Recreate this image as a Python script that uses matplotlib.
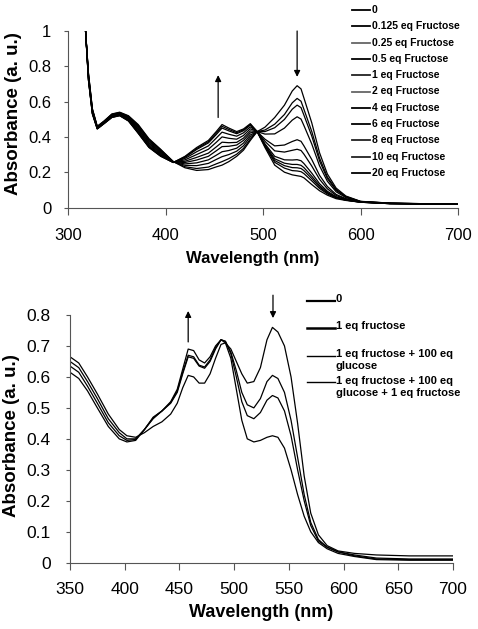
import matplotlib
matplotlib.use('Agg')
import matplotlib.pyplot as plt
from matplotlib.lines import Line2D

plt.rcParams['font.family'] = ['Liberation Sans', 'DejaVu Sans']

W, H = 478, 629

# ---- top panel: titration with fructose ----
wl_top = [318, 321, 325, 330, 337, 345, 353, 362, 372, 383, 395, 408, 420, 432, 444, 452, 458, 465,
          473, 480, 487, 494, 502, 512, 522, 530, 535, 539, 542, 550, 558, 566, 575, 585, 600, 630, 700]

fr_0 = [1.00, 0.76, 0.56, 0.46, 0.49, 0.53, 0.54, 0.52, 0.47, 0.39, 0.33, 0.26, 0.225, 0.21, 0.215, 0.23, 0.24, 0.26,
        0.29, 0.325, 0.38, 0.43, 0.455, 0.51, 0.58, 0.66, 0.69, 0.672, 0.62, 0.48, 0.31, 0.19, 0.11, 0.065, 0.035, 0.025, 0.018]
fr_0125 = [1.00, 0.757, 0.557, 0.459, 0.489, 0.528, 0.538, 0.517, 0.466, 0.386, 0.327, 0.26, 0.231, 0.221, 0.229, 0.247, 0.26, 0.277,
           0.302, 0.335, 0.388, 0.43, 0.439, 0.472, 0.527, 0.593, 0.618, 0.602, 0.556, 0.431, 0.28, 0.173, 0.102, 0.062, 0.034, 0.025, 0.018]
fr_025 = [1.00, 0.752, 0.554, 0.457, 0.487, 0.526, 0.536, 0.514, 0.46, 0.38, 0.322, 0.259, 0.239, 0.237, 0.25, 0.272, 0.288, 0.30,
          0.319, 0.35, 0.40, 0.43, 0.43, 0.452, 0.499, 0.557, 0.58, 0.566, 0.523, 0.405, 0.264, 0.164, 0.097, 0.06, 0.034, 0.024, 0.018]
fr_05 = [1.00, 0.747, 0.55, 0.455, 0.485, 0.523, 0.533, 0.51, 0.454, 0.374, 0.317, 0.258, 0.247, 0.253, 0.27, 0.296, 0.316, 0.323,
         0.336, 0.365, 0.411, 0.43, 0.416, 0.417, 0.45, 0.495, 0.514, 0.501, 0.464, 0.36, 0.236, 0.149, 0.089, 0.056, 0.033, 0.024, 0.018]
fr_1 = [1.00, 0.742, 0.546, 0.453, 0.483, 0.521, 0.531, 0.506, 0.447, 0.367, 0.312, 0.258, 0.255, 0.269, 0.29, 0.321, 0.345, 0.347,
        0.354, 0.38, 0.423, 0.43, 0.387, 0.349, 0.354, 0.374, 0.384, 0.375, 0.349, 0.272, 0.182, 0.119, 0.074, 0.05, 0.032, 0.023, 0.018]
fr_2 = [1.00, 0.737, 0.543, 0.452, 0.482, 0.519, 0.529, 0.503, 0.442, 0.362, 0.307, 0.257, 0.262, 0.284, 0.308, 0.343, 0.37, 0.367,
        0.369, 0.393, 0.434, 0.43, 0.375, 0.321, 0.314, 0.324, 0.33, 0.323, 0.302, 0.235, 0.16, 0.106, 0.068, 0.048, 0.032, 0.023, 0.018]
fr_4 = [1.00, 0.732, 0.539, 0.45, 0.48, 0.516, 0.526, 0.499, 0.435, 0.355, 0.302, 0.257, 0.27, 0.30, 0.33, 0.369, 0.40, 0.392,
        0.387, 0.408, 0.446, 0.43, 0.361, 0.29, 0.27, 0.269, 0.271, 0.265, 0.249, 0.195, 0.135, 0.092, 0.061, 0.045, 0.031, 0.023, 0.018]
fr_6 = [1.00, 0.727, 0.536, 0.448, 0.478, 0.514, 0.524, 0.496, 0.429, 0.349, 0.297, 0.256, 0.278, 0.316, 0.349, 0.393, 0.427, 0.415,
        0.404, 0.423, 0.457, 0.43, 0.355, 0.276, 0.251, 0.244, 0.244, 0.239, 0.226, 0.177, 0.124, 0.086, 0.058, 0.043, 0.031, 0.022, 0.018]
fr_8 = [1.00, 0.723, 0.533, 0.446, 0.476, 0.512, 0.522, 0.493, 0.424, 0.344, 0.293, 0.255, 0.284, 0.329, 0.366, 0.413, 0.45, 0.434,
        0.418, 0.435, 0.467, 0.43, 0.351, 0.266, 0.237, 0.226, 0.225, 0.221, 0.209, 0.164, 0.116, 0.082, 0.056, 0.042, 0.03, 0.022, 0.018]
fr_10 = [1.00, 0.722, 0.531, 0.446, 0.476, 0.511, 0.521, 0.491, 0.422, 0.342, 0.292, 0.255, 0.287, 0.334, 0.373, 0.421, 0.46, 0.442,
         0.424, 0.44, 0.471, 0.43, 0.347, 0.256, 0.223, 0.209, 0.207, 0.203, 0.192, 0.151, 0.108, 0.077, 0.054, 0.042, 0.03, 0.022, 0.018]
fr_20 = [1.00, 0.72, 0.53, 0.445, 0.475, 0.51, 0.52, 0.49, 0.42, 0.34, 0.29, 0.255, 0.29, 0.34, 0.38, 0.43, 0.47, 0.45,
         0.43, 0.445, 0.475, 0.43, 0.34, 0.24, 0.20, 0.185, 0.18, 0.176, 0.168, 0.13, 0.095, 0.07, 0.05, 0.04, 0.03, 0.022, 0.018]

top_series = [fr_0, fr_0125, fr_025, fr_05, fr_1, fr_2, fr_4, fr_6, fr_8, fr_10, fr_20]
top_labels = ['0', '0.125 eq Fructose', '0.25 eq Fructose', '0.5 eq Fructose', '1 eq Fructose',
              '2 eq Fructose', '4 eq Fructose', '6 eq Fructose', '8 eq Fructose', '10 eq Fructose',
              '20 eq Fructose']
top_colors = ['black', 'black', '#666666', 'black', '#222222', '#666666', 'black', 'black', '#222222', '#222222', 'black']

# ---- bottom panel: selectivity (fructose vs glucose) ----
wl_bot = [350, 358, 366, 375, 385, 395, 402, 410, 418, 426, 434, 442, 448, 453, 458, 463, 468, 473, 478, 483,
          488, 492, 497, 502, 507, 512, 518, 524, 530, 535, 540, 546, 552, 558, 564, 570, 577, 585, 595, 610,
          630, 660, 700]

bt_0 = [0.665, 0.645, 0.60, 0.545, 0.48, 0.43, 0.41, 0.405, 0.42, 0.44, 0.455, 0.48, 0.515, 0.565, 0.605, 0.60, 0.58, 0.58, 0.61, 0.66,
        0.705, 0.71, 0.69, 0.65, 0.61, 0.58, 0.585, 0.63, 0.72, 0.76, 0.745, 0.70, 0.60, 0.45, 0.28, 0.16, 0.09, 0.055, 0.038, 0.03,
        0.025, 0.022, 0.022]
bt_1 = [0.65, 0.63, 0.585, 0.53, 0.465, 0.42, 0.40, 0.40, 0.43, 0.465, 0.49, 0.515, 0.55, 0.61, 0.665, 0.66, 0.635, 0.628, 0.65, 0.69,
        0.72, 0.715, 0.68, 0.62, 0.55, 0.51, 0.50, 0.53, 0.585, 0.605, 0.595, 0.55, 0.46, 0.34, 0.22, 0.13, 0.075, 0.05, 0.035, 0.025,
        0.015, 0.012, 0.012]
bt_2 = [0.635, 0.615, 0.57, 0.515, 0.452, 0.41, 0.395, 0.398, 0.43, 0.468, 0.49, 0.517, 0.555, 0.615, 0.67, 0.665, 0.638, 0.632, 0.655, 0.695,
        0.72, 0.715, 0.675, 0.60, 0.52, 0.475, 0.465, 0.485, 0.525, 0.54, 0.532, 0.49, 0.41, 0.30, 0.20, 0.12, 0.07, 0.05, 0.035, 0.022,
        0.012, 0.01, 0.01]
bt_3 = [0.615, 0.595, 0.555, 0.50, 0.44, 0.40, 0.39, 0.395, 0.43, 0.47, 0.49, 0.52, 0.56, 0.625, 0.69, 0.685, 0.655, 0.645, 0.665, 0.70,
        0.72, 0.71, 0.66, 0.56, 0.46, 0.40, 0.39, 0.395, 0.405, 0.41, 0.405, 0.37, 0.30, 0.22, 0.15, 0.10, 0.065, 0.045, 0.03, 0.02,
        0.01, 0.008, 0.008]

bot_series = [bt_0, bt_1, bt_2, bt_3]
bot_labels = ['0', '1 eq fructose', '1 eq fructose + 100 eq\nglucose',
              '1 eq fructose + 100 eq\nglucose + 1 eq fructose']
bot_legend_lw = [1.6, 1.8, 1.0, 1.0]


def fig_xy(x, y):
    # pixel position (from top left) -> figure fraction
    return x / W, 1 - y / H


def style_axes(ax, xpad, ypad):
    for s in ['top', 'right']:
        ax.spines[s].set_visible(False)
    for s in ['left', 'bottom']:
        ax.spines[s].set_color('#555555')
        ax.spines[s].set_linewidth(0.8)
    ax.tick_params(axis='x', direction='out', length=5, width=0.8, color='#555555', pad=xpad)
    ax.tick_params(axis='y', direction='out', length=3, width=0.8, color='#555555', pad=ypad)


fig = plt.figure(figsize=(W / 100, H / 100), dpi=100)

ax1 = fig.add_axes([68 / W, 1 - 207.5 / H, 390 / W, 176.5 / H])
for vals in top_series:
    ax1.plot(wl_top, vals, color='black', lw=0.9, solid_joinstyle='round')
ax1.set_xlim(300, 700)
ax1.set_ylim(0, 1)
ax1.set_xticks([300, 400, 500, 600, 700])
ax1.set_yticks([0, 0.2, 0.4, 0.6, 0.8, 1])
ax1.set_yticklabels(['0', '0.2', '0.4', '0.6', '0.8', '1'])
style_axes(ax1, 10, 9)
ax1.tick_params(labelsize=12)
ax1.set_xlabel('Wavelength (nm)', fontsize=12, fontweight='bold')
ax1.set_ylabel('Absorbance (a. u.)', fontsize=13.5, fontweight='bold')
ax1.xaxis.set_label_coords(0.473, -0.249)
ax1.yaxis.set_label_coords(-0.118, 0.531)

arrow_kw = dict(arrowstyle='-|>', color='black', lw=0.9, mutation_scale=9, shrinkA=0, shrinkB=0)
ax1.annotate('', xy=(454, 0.75), xytext=(454, 0.51), arrowprops=arrow_kw, annotation_clip=False)
ax1.annotate('', xy=(535, 0.74), xytext=(535, 1.0), arrowprops=arrow_kw, annotation_clip=False)

# legend, top panel
for i, (lab, col) in enumerate(zip(top_labels, top_colors)):
    yy = 10 + 16.3 * i
    x0, y0 = fig_xy(352, yy)
    x1, _ = fig_xy(370, yy)
    fig.add_artist(Line2D([x0, x1], [y0, y0], color=col, lw=1.3, transform=fig.transFigure))
    fig.text(*fig_xy(372, yy), lab, fontsize=7.5, fontweight='bold', va='center', ha='left')

ax2 = fig.add_axes([70 / W, 1 - 562.7 / H, 383 / W, 247.7 / H])
for vals in bot_series:
    ax2.plot(wl_bot, vals, color='black', lw=0.9, solid_joinstyle='round')
ax2.set_xlim(350, 700)
ax2.set_ylim(0, 0.8)
ax2.set_xticks([350, 400, 450, 500, 550, 600, 650, 700])
ax2.set_yticks([0, 0.1, 0.2, 0.3, 0.4, 0.5, 0.6, 0.7, 0.8])
ax2.set_yticklabels(['0', '0.1', '0.2', '0.3', '0.4', '0.5', '0.6', '0.7', '0.8'])
style_axes(ax2, 9, 11)
ax2.tick_params(labelsize=12.5)
ax2.set_xlabel('Wavelength (nm)', fontsize=13, fontweight='bold')
ax2.set_ylabel('Absorbance (a. u.)', fontsize=13.5, fontweight='bold')
ax2.xaxis.set_label_coords(0.4987, -0.165)
ax2.yaxis.set_label_coords(-0.1305, 0.512)

ax2.annotate('', xy=(458, 0.813), xytext=(458, 0.713), arrowprops=arrow_kw, annotation_clip=False)
ax2.annotate('', xy=(535.5, 0.79), xytext=(535.5, 0.864), arrowprops=arrow_kw, annotation_clip=False)

# legend, bottom panel
bot_rows = [301, 327.5, 355.5, 382]
for lab, yy, lw in zip(bot_labels, bot_rows, bot_legend_lw):
    x0, y0 = fig_xy(306.5, yy)
    x1, _ = fig_xy(335, yy)
    fig.add_artist(Line2D([x0, x1], [y0, y0], color='black', lw=lw, transform=fig.transFigure))
    fig.text(*fig_xy(336, yy - 6.5), lab, fontsize=8, fontweight='bold', va='top', ha='left',
             linespacing=1.25)

fig.savefig('out.png', dpi=100)
